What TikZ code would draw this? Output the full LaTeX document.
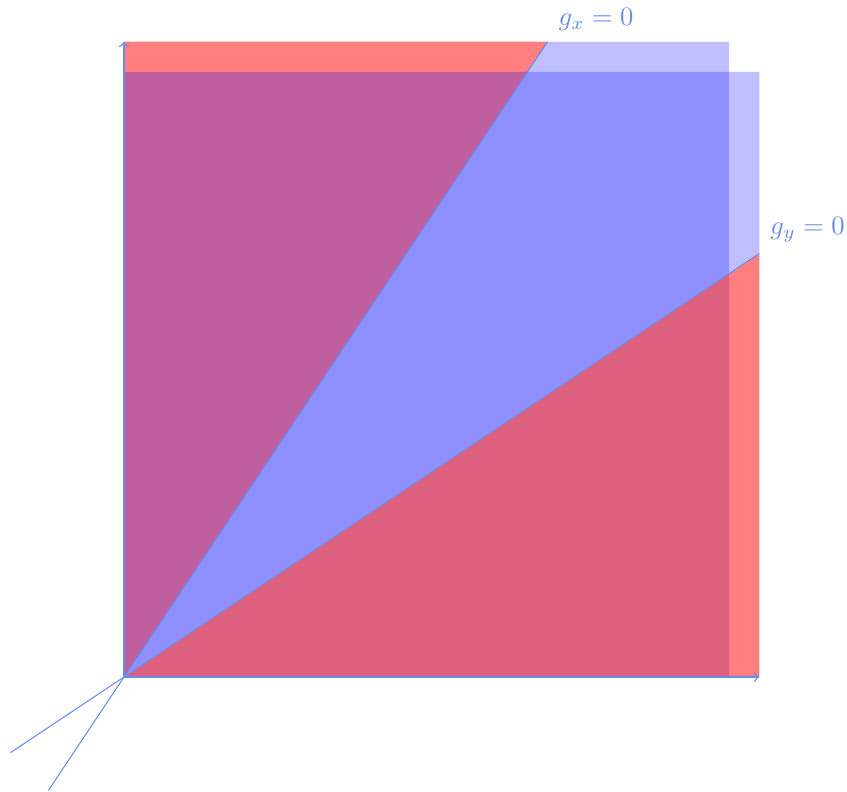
\documentclass[tikz,border=0pt]{standalone}
\usetikzlibrary{arrows}
\definecolor{linecol}{RGB}{105,140,230}
\begin{document}
\begin{tikzpicture}[x=4cm,y=4cm,
  redfill/.style={fill=red,fill opacity=0.5},
  bluefill/.style={fill=blue,fill opacity=0.25},
  gline/.style={draw=linecol,line width=0.4pt},
  axis/.style={draw=linecol,line width=0.5pt,->},
  glabel/.style={text=linecol,anchor=south west,inner sep=2pt}]
\useasboundingbox (-0.4099,-0.3769) rectangle (2.390,2.238);
\coordinate (O) at (0,0);
\coordinate (GxTop) at (1.4,2.1);
\coordinate (GxLow) at (-0.25,-0.375);
\coordinate (GyTop) at (2.1,1.4);
\coordinate (GyLow) at (-0.375,-0.25);
\coordinate (Xend) at (2.1,0);
\coordinate (Yend) at (0,2.1);
% set A
\fill[redfill] (O) -- (0,2.1) -- (GxTop) -- cycle;
\fill[bluefill] (O) -- (GxTop) -- (2,2.1) -- (2,0) -- cycle;
% set B
\fill[bluefill] (O) -- (0,2) -- (2.1,2) -- (GyTop) -- cycle;
\fill[redfill] (O) -- (GyTop) -- (2.1,0) -- cycle;
% lines
\draw[gline] (GxLow) -- (GxTop);
\draw[gline] (GyLow) -- (GyTop);
\draw[axis] (O) -- (Xend);
\draw[axis] (O) -- (Yend);
\node[glabel] (lx) at ([xshift=2pt,yshift=2pt]GxTop) {$g_x=0$};
\node[glabel] (ly) at ([xshift=2pt,yshift=2pt]GyTop) {$g_y=0$};
\end{tikzpicture}
\end{document}
